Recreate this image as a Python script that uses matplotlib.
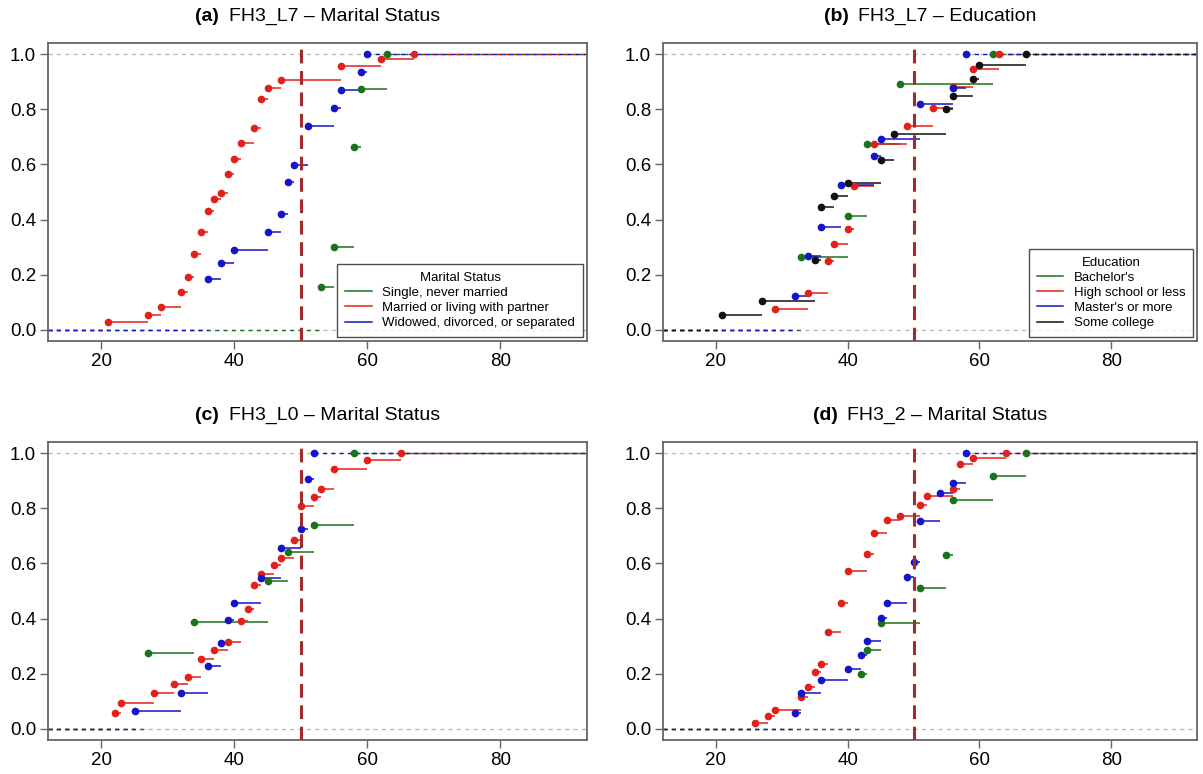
import matplotlib
matplotlib.use("Agg")
import matplotlib.pyplot as plt
from matplotlib.lines import Line2D
from matplotlib.offsetbox import AnchoredOffsetbox, HPacker, TextArea

plt.rcParams["font.family"] = ["Liberation Sans", "DejaVu Sans"]

# ---- (a) FH3_L7 by marital status: age steps and cumulative share ----
a_single_x = [53, 55, 58, 59, 63]
a_single_y = [0.156, 0.300, 0.663, 0.874, 1.0]
a_married_x = [21, 27, 29, 32, 33, 34, 35, 36, 37, 38, 39, 40, 41, 43, 44, 45, 47, 56, 62, 67]
a_married_y = [0.029, 0.056, 0.082, 0.138, 0.193, 0.277, 0.356, 0.432, 0.475, 0.498,
               0.564, 0.621, 0.676, 0.733, 0.836, 0.878, 0.905, 0.958, 0.981, 1.0]
a_widowed_x = [36, 38, 40, 45, 47, 48, 49, 51, 55, 56, 59, 60]
a_widowed_y = [0.185, 0.242, 0.290, 0.356, 0.420, 0.535, 0.598, 0.739, 0.806, 0.870, 0.935, 1.0]

# ---- (b) FH3_L7 by education ----
b_bachelor_x = [33, 40, 43, 48, 62]
b_bachelor_y = [0.263, 0.413, 0.674, 0.891, 1.0]
b_highschool_x = [29, 34, 37, 38, 40, 41, 44, 49, 53, 56, 59, 63]
b_highschool_y = [0.075, 0.134, 0.250, 0.313, 0.366, 0.522, 0.674, 0.739, 0.806, 0.880, 0.947, 1.0]
b_masters_x = [32, 34, 36, 39, 44, 45, 51, 56, 58]
b_masters_y = [0.124, 0.267, 0.372, 0.525, 0.630, 0.691, 0.819, 0.876, 1.0]
b_somecollege_x = [21, 27, 35, 36, 38, 40, 45, 47, 55, 56, 59, 60, 67]
b_somecollege_y = [0.054, 0.105, 0.254, 0.444, 0.486, 0.534, 0.616, 0.709, 0.800, 0.848, 0.911, 0.961, 1.0]

# ---- (c) FH3_L0 by marital status ----
c_single_x = [27, 34, 45, 48, 52, 58]
c_single_y = [0.274, 0.386, 0.537, 0.641, 0.739, 1.0]
c_married_x = [22, 23, 28, 31, 33, 35, 37, 39, 41, 42, 43, 44, 46, 47, 49, 50, 52, 53, 55, 60, 65]
c_married_y = [0.059, 0.095, 0.129, 0.163, 0.188, 0.255, 0.287, 0.314, 0.392, 0.433, 0.521,
               0.561, 0.593, 0.621, 0.686, 0.809, 0.842, 0.871, 0.943, 0.973, 1.0]
c_widowed_x = [25, 32, 36, 38, 39, 40, 44, 47, 50, 51, 52]
c_widowed_y = [0.066, 0.129, 0.228, 0.310, 0.396, 0.458, 0.548, 0.656, 0.723, 0.905, 1.0]

# ---- (d) FH3_2 by marital status ----
d_single_x = [42, 43, 45, 51, 55, 56, 62, 67]
d_single_y = [0.198, 0.287, 0.384, 0.511, 0.631, 0.829, 0.916, 1.0]
d_married_x = [26, 28, 29, 33, 34, 35, 36, 37, 39, 40, 43, 44, 46, 48, 51, 52, 56, 57, 59, 64]
d_married_y = [0.023, 0.046, 0.070, 0.115, 0.152, 0.207, 0.234, 0.353, 0.455, 0.572,
               0.634, 0.709, 0.756, 0.772, 0.812, 0.846, 0.871, 0.961, 0.981, 1.0]
d_widowed_x = [32, 33, 36, 40, 42, 43, 45, 46, 49, 50, 51, 54, 56, 58]
d_widowed_y = [0.059, 0.129, 0.179, 0.218, 0.267, 0.317, 0.403, 0.458, 0.551, 0.606,
               0.753, 0.855, 0.891, 1.0]

marital_labels = ["Single, never married", "Married or living with partner",
                  "Widowed, divorced, or separated"]
education_labels = ["Bachelor's", "High school or less", "Master's or more", "Some college"]
x_ticks = [20, 40, 60, 80]
y_ticks = [0.0, 0.2, 0.4, 0.6, 0.8, 1.0]
cutoff_age = 50

GREEN = "#1A731A"
RED = "#E3211C"
BLUE = "#1414C8"
BLACK = "#111111"
CUTOFF = "#A32A2E"
FRAME = "#666666"
XLIM = (12, 93)
YLIM = (-0.04, 1.04)

W, H = 1203, 774
fig = plt.figure(figsize=(W / 100, H / 100), dpi=100)


def px_axes(left, top, right, bottom):
    return fig.add_axes([left / W, 1 - bottom / H, (right - left) / W, (bottom - top) / H])


def step_series(ax, xs, ys, color):
    # horizontal steps from each jump to the next one
    ax.hlines(ys[:-1], xs[:-1], xs[1:], color=color, lw=1.1, zorder=3)
    # tails before the first jump and after the last one
    ax.plot([XLIM[0], xs[0]], [0, 0], color=color, lw=1.0, dashes=(3, 3), zorder=2)
    ax.plot([xs[-1], XLIM[1]], [1, 1], color=color, lw=1.0, dashes=(3, 3), zorder=2)
    ax.plot(xs, ys, "o", color=color, ms=4.5, mec=color, zorder=4)


def style_axes(ax, tag, title):
    ax.set_xlim(*XLIM)
    ax.set_ylim(*YLIM)
    ax.set_xticks(x_ticks)
    ax.set_yticks(y_ticks)
    ax.set_yticklabels([f"{v:.1f}" for v in y_ticks])
    ax.tick_params(labelsize=13.5, length=5.5, width=1.0, color=FRAME, pad=3)
    for sp in ax.spines.values():
        sp.set_color(FRAME)
        sp.set_linewidth(1.3)
    for yv in (0, 1):
        ax.axhline(yv, color="#BBBBBB", lw=1.0, dashes=(3, 3), zorder=1)
    ax.axvline(cutoff_age, color=CUTOFF, lw=2.2, dashes=(4.5, 2.5), zorder=5)
    packer = HPacker(children=[
        TextArea(tag, textprops=dict(fontsize=14, fontweight="bold")),
        TextArea(title, textprops=dict(fontsize=14)),
    ], align="baseline", pad=0, sep=7)
    box = AnchoredOffsetbox(loc="lower center", child=packer, pad=0, borderpad=0,
                            frameon=False, bbox_to_anchor=(0.5, 1.06),
                            bbox_transform=ax.transAxes)
    ax.add_artist(box)


def add_legend(ax, labels, colors, title):
    handles = [Line2D([], [], color=c, lw=1.1) for c in colors]
    leg = ax.legend(handles, labels, title=title, loc="lower right", fontsize=9.5,
                    title_fontsize=9.5, frameon=True, fancybox=False,
                    borderaxespad=0.3, handlelength=2.0, handletextpad=0.8,
                    labelspacing=0.22, borderpad=0.6)
    leg.get_frame().set_edgecolor("#222222")
    leg.get_frame().set_linewidth(1.0)
    leg.set_zorder(6)


# (a)
ax = px_axes(48, 43, 587, 341)
style_axes(ax, "(a)", "FH3_L7 \u2013 Marital Status")
step_series(ax, a_single_x, a_single_y, GREEN)
step_series(ax, a_married_x, a_married_y, RED)
step_series(ax, a_widowed_x, a_widowed_y, BLUE)
add_legend(ax, marital_labels, [GREEN, RED, BLUE], "Marital Status")

# (b)
ax = px_axes(663, 43, 1197, 341)
style_axes(ax, "(b)", "FH3_L7 \u2013 Education")
step_series(ax, b_bachelor_x, b_bachelor_y, GREEN)
step_series(ax, b_highschool_x, b_highschool_y, RED)
step_series(ax, b_masters_x, b_masters_y, BLUE)
step_series(ax, b_somecollege_x, b_somecollege_y, BLACK)
add_legend(ax, education_labels, [GREEN, RED, BLUE, BLACK], "Education")

# (c)
ax = px_axes(48, 442, 587, 740)
style_axes(ax, "(c)", "FH3_L0 \u2013 Marital Status")
step_series(ax, c_single_x, c_single_y, GREEN)
step_series(ax, c_married_x, c_married_y, RED)
step_series(ax, c_widowed_x, c_widowed_y, BLUE)

# (d)
ax = px_axes(663, 442, 1197, 740)
style_axes(ax, "(d)", "FH3_2 \u2013 Marital Status")
step_series(ax, d_single_x, d_single_y, GREEN)
step_series(ax, d_married_x, d_married_y, RED)
step_series(ax, d_widowed_x, d_widowed_y, BLUE)

fig.savefig("out.png", dpi=100)
